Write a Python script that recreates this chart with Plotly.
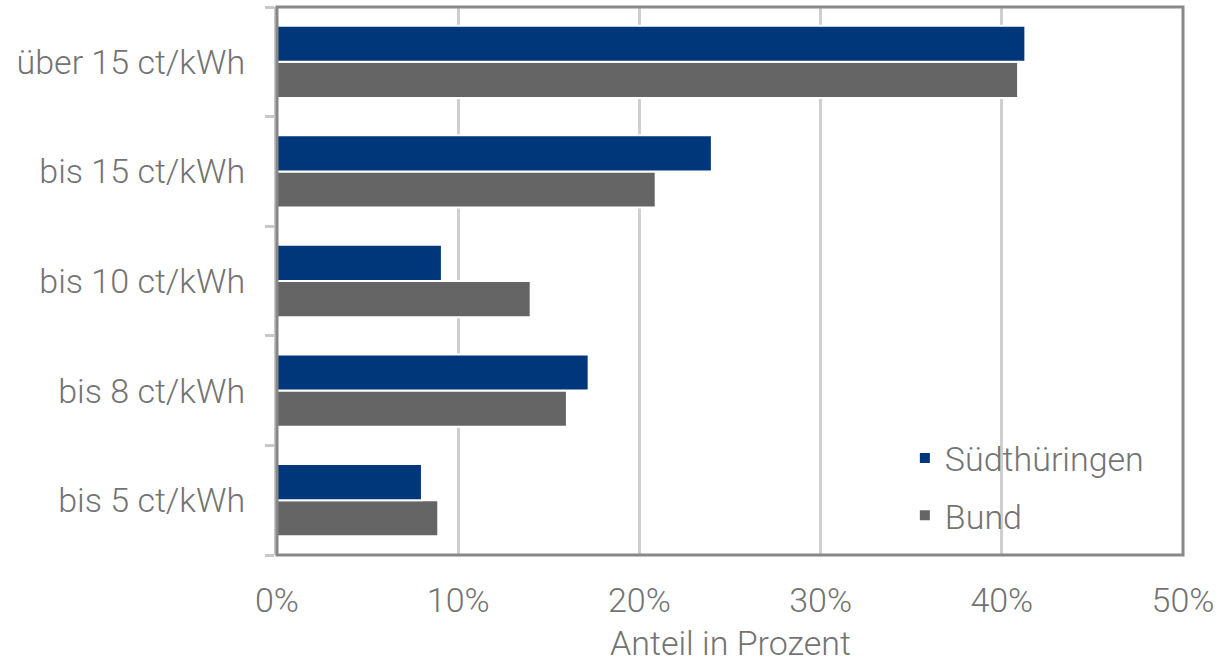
import plotly.graph_objects as go

categories = ["bis 5 ct/kWh", "bis 8 ct/kWh", "bis 10 ct/kWh", "bis 15 ct/kWh", "über 15 ct/kWh"]
sued = [8.0, 17.2, 9.1, 24.0, 41.3]
bund = [8.9, 16.0, 14.0, 20.9, 40.9]
x_ticks = [0, 10, 20, 30, 40, 50]
x_ticklabels = ["0%", "10%", "20%", "30%", "40%", "50%"]
x_title = "Anteil in Prozent"

TXT = "#737373"
def f(size):
    return dict(family="Roboto", size=size, color=TXT, weight=300)

fig = go.Figure()
fig.add_trace(go.Bar(y=categories, x=bund, orientation="h", name="Bund",
                     marker=dict(color="#646564", line=dict(color="white", width=2)),
                     legendrank=2, legendgroup="b"))
fig.add_trace(go.Bar(y=categories, x=sued, orientation="h", name="Südthüringen",
                     marker=dict(color="#00377a", line=dict(color="white", width=2)),
                     legendrank=1, legendgroup="a"))

fig.update_layout(
    width=1221, height=664,
    margin=dict(l=277, r=33, t=7, b=109),
    paper_bgcolor="white", plot_bgcolor="white",
    barmode="group", bargap=0.34, bargroupgap=0.0,
    font=f(34),
    legend=dict(x=0.693, y=0.229, xanchor="left", yanchor="top",
                font=f(34), bgcolor="rgba(0,0,0,0)", itemwidth=30,
                tracegroupgap=10),
    shapes=[dict(type="rect", xref="paper", yref="paper", x0=0, x1=1, y0=0, y1=1,
                 line=dict(color="#888888", width=3), layer="above")],
    annotations=[dict(text=x_title, xref="paper", yref="paper", x=0.5, y=0,
                      xanchor="center", yanchor="middle", yshift=-88,
                      showarrow=False, font=f(34))],
)
fig.update_xaxes(range=[0, 50], tickvals=x_ticks, ticktext=x_ticklabels,
                 showgrid=True, gridcolor="#cfcfcf", gridwidth=3,
                 zeroline=False, showline=False, ticks="",
                 ticklabelstandoff=22,
                 tickfont=f(34))
fig.update_yaxes(type="category", categoryorder="array", categoryarray=categories,
                 showline=True, linecolor="#c8c8c8", linewidth=3,
                 ticks="outside", tickson="boundaries", ticklen=9, tickcolor="#c8c8c8", tickwidth=3,
                 showgrid=False, ticklabelstandoff=22,
                 tickfont=f(34))

fig.write_html("out.html")
